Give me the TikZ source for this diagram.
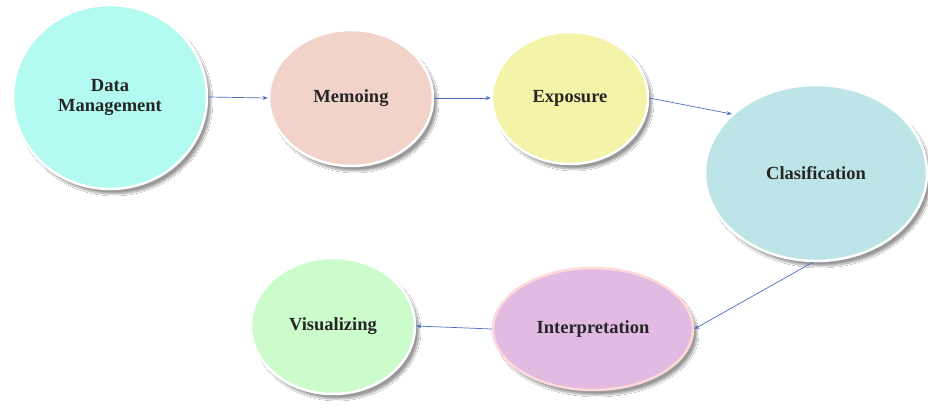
\documentclass[tikz,border=0pt]{standalone}
\usepackage{fontspec}
\setmainfont{Liberation Serif}
\usetikzlibrary{shapes.geometric,shadows.blur,arrows.meta}
\definecolor{cDM}{HTML}{B3FAF0}
\definecolor{cMem}{HTML}{F2D3CA}
\definecolor{cExp}{HTML}{F3F4A8}
\definecolor{cCla}{HTML}{BDE4E7}
\definecolor{cInt}{HTML}{E2BBE3}
\definecolor{cVis}{HTML}{CCFBCC}
\definecolor{cArr}{HTML}{4A6FC0}
\tikzset{
  bubble/.style={ellipse, inner sep=0pt, draw=white, line width=2.5pt,
    blur shadow={shadow xshift=4pt, shadow yshift=-5pt, shadow blur steps=12, shadow opacity=40},
    font=\fontsize{18.5}{20}\selectfont\bfseries, align=center, text=black!85},
  conn/.style={draw=cArr, line width=0.7pt, -{Stealth[length=5pt,width=4pt]}}
}
\begin{document}
\begin{tikzpicture}[x=1pt,y=-1pt]
\useasboundingbox[fill=white] (0,0) rectangle (928,409);
\node[bubble, fill=cDM, minimum width=194pt, minimum height=184pt] (dm) at (110,97) {Data\\Management};
\node[bubble, fill=cMem, minimum width=164pt, minimum height=136pt] (mem) at (351,98) {Memoing};
\node[bubble, fill=cExp, minimum width=156pt, minimum height=132pt] (exp) at (570,98) {Exposure};
\node[bubble, fill=cCla, minimum width=222pt, minimum height=176pt] (cla) at (816,173) {Clasification};
\node[bubble, fill=cInt, minimum width=200pt, minimum height=122pt, draw=pink!60!white] (int) at (593,329) {Interpretation};
\node[bubble, fill=cVis, minimum width=164pt, minimum height=136pt] (vis) at (333,326) {Visualizing};
\draw[conn] (dm.east) -- (mem.west);
\draw[conn] (mem.east) -- (exp.west);
\draw[conn] (exp.east) -- (cla.145);
\draw[conn] (cla.268) -- (int.east);
\draw[conn] (int.west) -- (vis.east);
\end{tikzpicture}
\end{document}
